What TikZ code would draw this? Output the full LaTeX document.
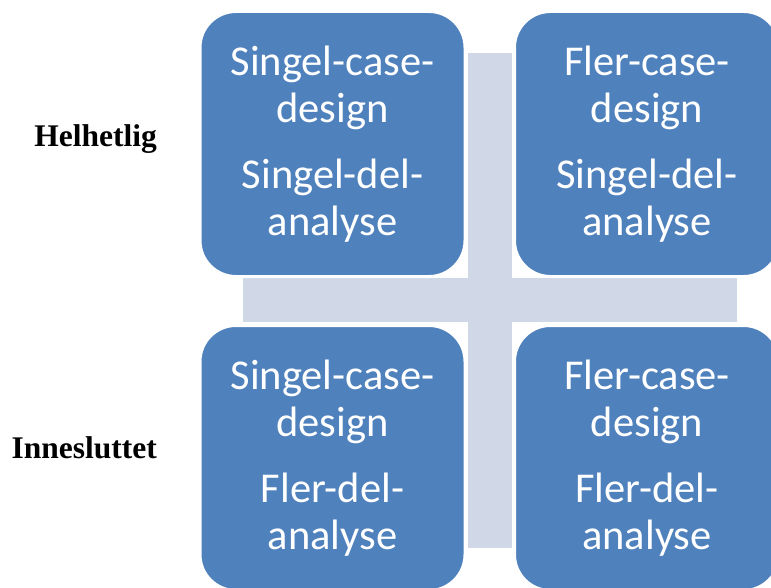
\documentclass[tikz,border=0pt]{standalone}
\usepackage{fontspec}
\setmainfont{Carlito}
\newfontfamily\labelfont{Liberation Serif}
\definecolor{boxblue}{HTML}{4F81BD}
\definecolor{crossgray}{HTML}{D0D8E8}
\begin{document}
\begin{tikzpicture}[x=1bp,y=-1bp,
  cell/.style={draw=white, line width=3bp, fill=boxblue, rounded corners=36bp,
    minimum width=265bp, minimum height=265bp, inner sep=0pt, text=white,
    align=center, font=\fontsize{42.5bp}{47bp}\selectfont},
  rowlabel/.style={anchor=base east, inner sep=0pt, font=\labelfont\bfseries\fontsize{31.5bp}{36bp}\selectfont}]
  \useasboundingbox (0,0) rectangle (771,588);
  % background cross
  \fill[crossgray] (468,53) rectangle (512,548);
  \fill[crossgray] (243,278) rectangle (737,322);
  % the four cells
  \node[cell] (tl) at (332.5,144) {Singel-case-\\design\\[19bp]Singel-del-\\analyse};
  \node[cell] (tr) at (647,144) {Fler-case-\\design\\[19bp]Singel-del-\\analyse};
  \node[cell] (bl) at (332.5,458) {Singel-case-\\design\\[19bp]Fler-del-\\analyse};
  \node[cell] (br) at (647,458) {Fler-case-\\design\\[19bp]Fler-del-\\analyse};
  % row labels
  \node[rowlabel] (hel) at (157,147) {Helhetlig};
  \node[rowlabel] (inn) at (157,458) {Innesluttet};
\end{tikzpicture}
\end{document}
